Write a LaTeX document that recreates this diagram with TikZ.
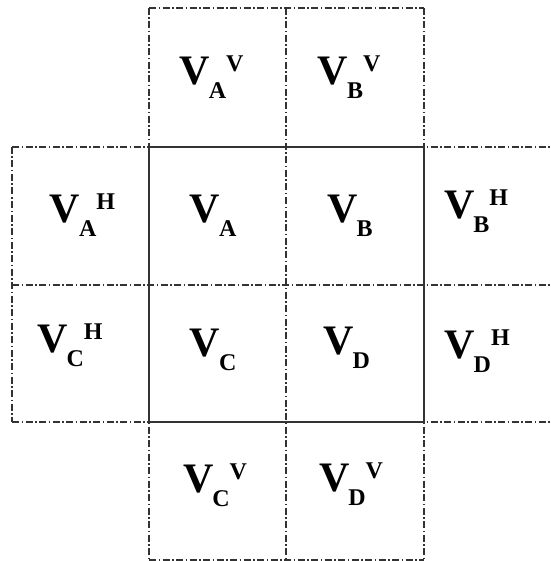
\documentclass[tikz,border=0pt]{standalone}
\usepackage{fontspec}
\setmainfont{Liberation Serif}
\newcommand{\bigV}{{\fontsize{42}{42}\selectfont\bfseries V}}
\newcommand{\smallL}[1]{{\fontsize{24}{24}\selectfont\bfseries #1}}
\newcommand{\lblsub}[1]{\bigV\kern-1pt\raisebox{-14pt}{\smallL{#1}}}
\newcommand{\lblsubsup}[2]{\bigV\kern-1pt\raisebox{-14pt}{\smallL{#1}}\raisebox{13pt}{\smallL{#2}}}
\begin{document}
\begin{tikzpicture}[x=1pt,y=-1pt,
  dd/.style={draw=black!80,line width=1.2pt,dash pattern=on 7pt off 2.5pt on 1.5pt off 2.5pt},
  solidline/.style={draw=black!80,line width=1.5pt},
  lab/.style={inner sep=0pt,anchor=center}]
\useasboundingbox (0,0) rectangle (550,561);
\begin{scope}
\clip (0,0) rectangle (550,561);
% dash-dot grid lines
\draw[dd] (149,8) -- (424,8);
\draw[dd] (12,147) -- (560,147);
\draw[dd] (12,285) -- (560,285);
\draw[dd] (12,422) -- (560,422);
\draw[dd] (149,560) -- (424,560);
\draw[dd] (149,8) -- (149,560);
\draw[dd] (286,8) -- (286,560);
\draw[dd] (424,8) -- (424,560);
\draw[dd] (12,147) -- (12,422);
% solid central block
\draw[solidline] (149,147) rectangle (424,422);
\end{scope}
% labels
\node[lab] (vav) at (211.5,77.5) {\lblsubsup{A}{V}};
\node[lab] (vbv) at (349,77.5) {\lblsubsup{B}{V}};
\node[lab] (vah) at (82.5,215.5) {\lblsubsup{A}{H}};
\node[lab] (va) at (213,216) {\lblsub{A}};
\node[lab] (vb) at (350,216) {\lblsub{B}};
\node[lab] (vbh) at (476,211) {\lblsubsup{B}{H}};
\node[lab] (vch) at (70,345) {\lblsubsup{C}{H}};
\node[lab] (vc) at (213,350) {\lblsub{C}};
\node[lab] (vd) at (346.5,348) {\lblsub{D}};
\node[lab] (vdh) at (477,351) {\lblsubsup{D}{H}};
\node[lab] (vcv) at (215,485.5) {\lblsubsup{C}{V}};
\node[lab] (vdv) at (351,484) {\lblsubsup{D}{V}};
\end{tikzpicture}
\end{document}
